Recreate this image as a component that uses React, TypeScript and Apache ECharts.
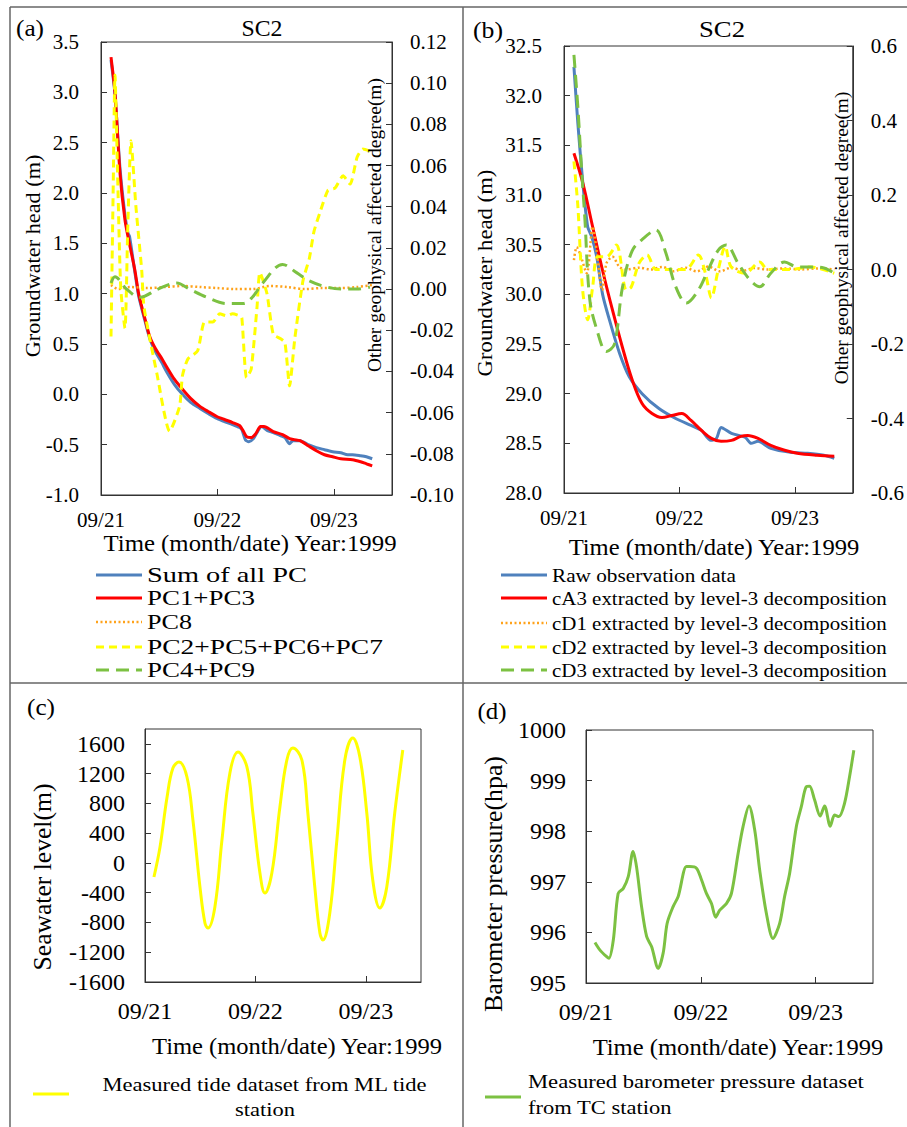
import React, { useEffect, useRef } from "react";
import * as echarts from "echarts";

// ---------------- DATA ----------------
// x values are days after 09/21 00:00 (1999)
const dayTickLabels = ["09/21", "09/22", "09/23"];

// Panel (a) – left axis (groundwater head, m)
const aSumAllPC: [number, number][] = [
  [0.086, 3.32], [0.12, 2.98], [0.163, 2.25], [0.206, 1.78], [0.232, 1.6], [0.245, 1.57],
  [0.29, 1.22], [0.32, 1.0], [0.335, 0.92], [0.38, 0.72], [0.42, 0.55], [0.47, 0.42],
  [0.52, 0.32], [0.566, 0.22], [0.63, 0.1], [0.7, 0.0], [0.77, -0.08], [0.85, -0.14],
  [0.92, -0.19], [0.995, -0.24], [1.06, -0.27], [1.13, -0.3], [1.19, -0.33], [1.21, -0.35],
  [1.24, -0.45], [1.27, -0.47], [1.31, -0.44], [1.35, -0.36], [1.38, -0.32], [1.43, -0.36],
  [1.48, -0.38], [1.54, -0.41], [1.58, -0.43], [1.62, -0.49], [1.65, -0.46], [1.71, -0.46],
  [1.78, -0.5], [1.85, -0.53], [1.92, -0.55], [1.99, -0.57], [2.06, -0.58], [2.12, -0.6],
  [2.16, -0.6], [2.23, -0.61], [2.28, -0.62], [2.33, -0.64],
];
const aPC1PC3: [number, number][] = [
  [0.086, 3.35], [0.12, 3.0], [0.163, 2.2], [0.206, 1.73], [0.24, 1.52], [0.29, 1.24],
  [0.32, 1.02], [0.335, 0.94], [0.38, 0.74], [0.42, 0.57], [0.47, 0.45], [0.52, 0.36],
  [0.566, 0.27], [0.63, 0.15], [0.7, 0.05], [0.77, -0.04], [0.85, -0.12], [0.92, -0.17],
  [0.995, -0.22], [1.06, -0.25], [1.13, -0.28], [1.19, -0.31], [1.22, -0.36], [1.25, -0.42],
  [1.29, -0.43], [1.33, -0.39], [1.37, -0.32], [1.4, -0.32], [1.48, -0.37], [1.56, -0.4],
  [1.62, -0.44], [1.66, -0.45], [1.71, -0.46], [1.78, -0.51], [1.85, -0.56], [1.92, -0.6],
  [1.99, -0.62], [2.06, -0.64], [2.16, -0.65], [2.23, -0.67], [2.28, -0.69], [2.33, -0.71],
];
// Panel (a) – right axis (other geophysical affected degree, m)
const aPC8: [number, number][] = [
  [0.086, 0.002], [0.15, 0.0], [0.25, 0.001], [0.4, 0.0005], [0.55, 0.001], [0.7, 0.0015],
  [0.85, 0.001], [1.0, 0.0005], [1.15, 0.0], [1.3, 0.0], [1.45, 0.0015], [1.6, 0.001],
  [1.75, 0.0], [1.9, 0.0005], [2.05, 0.0005], [2.2, 0.001], [2.33, 0.002],
];
const aPC2PC5PC6PC7: [number, number][] = [
  [0.086, -0.023], [0.105, 0.05], [0.12, 0.104], [0.145, 0.05], [0.17, 0.0], [0.206, -0.019],
  [0.23, 0.03], [0.258, 0.072], [0.3, 0.04], [0.35, 0.009], [0.37, -0.009], [0.48, -0.041],
  [0.59, -0.069], [0.675, -0.057], [0.7, -0.042], [0.746, -0.034], [0.83, -0.03], [0.89, -0.016],
  [0.96, -0.016], [1.02, -0.012], [1.08, -0.013], [1.13, -0.012], [1.19, -0.013], [1.21, -0.014],
  [1.25, -0.043], [1.29, -0.039], [1.34, -0.009], [1.365, 0.008], [1.425, -0.002], [1.48, -0.022],
  [1.54, -0.024], [1.58, -0.026], [1.62, -0.047], [1.665, -0.024], [1.735, 0.004], [1.79, 0.015],
  [1.83, 0.028], [1.88, 0.037], [1.95, 0.048], [2.01, 0.049], [2.08, 0.055], [2.14, 0.051],
  [2.2, 0.064], [2.25, 0.068], [2.31, 0.067],
];
const aPC4PC9: [number, number][] = [
  [0.086, 0.003], [0.12, 0.006], [0.22, 0.0], [0.335, -0.004], [0.49, 0.0], [0.65, 0.003],
  [0.76, 0.0], [0.91, -0.004], [1.08, -0.007], [1.22, -0.007], [1.3, -0.004], [1.39, 0.003],
  [1.56, 0.012], [1.68, 0.008], [1.79, 0.004], [1.94, 0.001], [2.08, 0.0], [2.2, 0.0], [2.31, 0.001],
];

// Panel (b) – left axis
const bRawObservation: [number, number][] = [
  [0.086, 32.29], [0.12, 31.72], [0.163, 31.12], [0.205, 30.68], [0.24, 30.58], [0.283, 30.38],
  [0.334, 30.0], [0.394, 29.74], [0.48, 29.41], [0.565, 29.17], [0.676, 29.0], [0.822, 28.85],
  [0.967, 28.75], [1.1, 28.68], [1.19, 28.63], [1.27, 28.53], [1.32, 28.55], [1.36, 28.66],
  [1.45, 28.6], [1.57, 28.56], [1.62, 28.5], [1.68, 28.52], [1.79, 28.45], [1.96, 28.41],
  [2.11, 28.4], [2.25, 28.38], [2.34, 28.35],
];
const bCA3: [number, number][] = [
  [0.086, 31.42], [0.163, 31.12], [0.248, 30.68], [0.334, 30.24], [0.42, 29.84], [0.505, 29.47],
  [0.59, 29.14], [0.676, 28.9], [0.762, 28.8], [0.848, 28.76], [0.933, 28.78], [1.02, 28.8],
  [1.1, 28.73], [1.19, 28.63], [1.276, 28.55], [1.36, 28.52], [1.45, 28.53], [1.53, 28.57],
  [1.59, 28.58], [1.68, 28.55], [1.79, 28.48], [1.91, 28.43], [2.02, 28.4], [2.19, 28.38], [2.34, 28.37],
];
// Panel (b) – right axis
const bCD1: [number, number][] = [
  [0.086, 0.025], [0.11, 0.06], [0.137, 0.044], [0.197, -0.01], [0.248, 0.115], [0.283, 0.05],
  [0.33, -0.055], [0.368, 0.017], [0.42, 0.034], [0.48, 0.007], [0.54, 0.0], [0.65, 0.005],
  [0.75, 0.0], [0.85, 0.007], [0.95, -0.005], [1.05, 0.005], [1.15, -0.005], [1.25, 0.008],
  [1.35, -0.005], [1.45, 0.005], [1.55, -0.003], [1.65, 0.004], [1.75, 0.0], [1.9, 0.003],
  [2.05, 0.0], [2.2, 0.003], [2.34, 0.0],
];
const bCD2: [number, number][] = [
  [0.086, 0.29], [0.12, 0.17], [0.16, -0.05], [0.205, -0.135], [0.248, -0.047], [0.29, 0.034],
  [0.368, 0.034], [0.454, 0.066], [0.54, -0.055], [0.582, -0.047], [0.65, 0.017], [0.72, 0.039],
  [0.796, 0.0], [0.907, 0.0], [1.053, 0.0], [1.164, 0.039], [1.224, -0.01], [1.276, -0.076],
  [1.336, 0.0], [1.396, 0.062], [1.447, 0.007], [1.567, -0.01], [1.695, 0.02], [1.764, 0.0],
  [1.96, 0.0], [2.13, 0.007], [2.34, -0.01],
];
const bCD3: [number, number][] = [
  [0.086, 0.576], [0.12, 0.436], [0.154, 0.26], [0.18, 0.14], [0.223, -0.08], [0.283, -0.16],
  [0.368, -0.22], [0.437, -0.2], [0.505, -0.05], [0.59, 0.05], [0.693, 0.085], [0.796, 0.106],
  [0.882, 0.044], [0.967, -0.046], [1.06, -0.09], [1.164, -0.055], [1.25, 0.0], [1.336, 0.052],
  [1.404, 0.066], [1.507, 0.017], [1.61, -0.028], [1.695, -0.046], [1.79, -0.01], [1.91, 0.02],
  [2.02, 0.007], [2.13, 0.007], [2.25, 0.004], [2.34, -0.01],
];

// Panel (c) – tide
const cTide: [number, number][] = [
  [0.081, -189], [0.136, 214], [0.2, 886], [0.253, 1276], [0.308, 1356], [0.38, 1155],
  [0.434, 577], [0.498, -324], [0.543, -808], [0.57, -875], [0.633, -592], [0.697, 308],
  [0.769, 1209], [0.842, 1491], [0.923, 1290], [0.977, 671], [1.041, -135], [1.086, -404],
  [1.149, -135], [1.222, 752], [1.285, 1383], [1.339, 1545], [1.421, 1383], [1.475, 671],
  [1.538, -324], [1.584, -942], [1.611, -1036], [1.674, -673], [1.738, 308], [1.81, 1383],
  [1.882, 1679], [1.946, 1424], [2.009, 671], [2.063, -229], [2.127, -606], [2.19, -324],
  [2.262, 671], [2.335, 1517],
];

// Panel (d) – barometer pressure
const dPressure: [number, number][] = [
  [0.078, 995.8], [0.122, 995.65], [0.18, 995.52], [0.2, 995.49], [0.238, 995.85], [0.28, 996.77],
  [0.325, 996.87], [0.368, 997.1], [0.41, 997.6], [0.44, 997.3], [0.484, 996.51], [0.528, 995.92],
  [0.571, 995.72], [0.629, 995.29], [0.672, 995.59], [0.707, 996.18], [0.759, 996.51], [0.803, 996.71],
  [0.875, 997.3], [0.904, 997.3], [0.962, 997.27], [1.006, 997.04], [1.049, 996.77], [1.093, 996.57],
  [1.13, 996.3], [1.165, 996.44], [1.223, 996.57], [1.267, 996.77], [1.325, 997.56], [1.368, 998.09],
  [1.42, 998.5], [1.47, 998.02], [1.513, 997.23], [1.571, 996.38], [1.629, 995.88], [1.687, 996.18],
  [1.73, 996.71], [1.774, 997.17], [1.832, 998.09], [1.875, 998.48], [1.919, 998.88], [1.948, 998.89],
  [1.991, 998.62], [2.04, 998.3], [2.078, 998.5], [2.128, 998.1], [2.165, 998.32], [2.203, 998.29],
  [2.252, 998.55], [2.296, 999.08], [2.333, 999.6],
];

const legendA = ["Sum of all PC", "PC1+PC3", "PC8", "PC2+PC5+PC6+PC7", "PC4+PC9"];
const legendB = [
  "Raw observation data",
  "cA3 extracted by level-3 decomposition",
  "cD1 extracted by level-3 decomposition",
  "cD2 extracted by level-3 decomposition",
  "cD3 extracted by level-3 decomposition",
];

// ---------------- STYLE ----------------
const FONT = "Liberation Serif, Times New Roman, serif";
const BLUE = "#4F81BD";
const RED = "#FF0000";
const ORANGE = "#FFA21A";
const YELLOW = "#FFFF00";
const GREEN = "#7CC142";
const TXT = "#000";
const AX = "#333";

let measureCtx: CanvasRenderingContext2D | null = null;
function measure(text: string, size: number) {
  if (!measureCtx) measureCtx = document.createElement("canvas").getContext("2d");
  if (!measureCtx) return text.length * size * 0.5;
  measureCtx.font = `${size}px ${FONT}`;
  return measureCtx.measureText(text).width;
}

function txt(text: string, x: number, y: number, size: number, width: number | null,
  align: "left" | "center" | "right" = "center", rotation = 0) {
  const s = width ? width / measure(text, size) : 1;
  return {
    type: "text", x, y, rotation, scaleX: s, scaleY: 1, silent: true, z: 20,
    style: {
      text, fontSize: size, fontFamily: FONT, fill: TXT,
      textAlign: align, textVerticalAlign: "middle", align, verticalAlign: "middle",
    },
  };
}

function seg(x1: number, y1: number, x2: number, y2: number, stroke: string, lineWidth: number, lineDash?: number[]) {
  return {
    type: "line", silent: true, z: 20,
    shape: { x1, y1, x2, y2 },
    style: { stroke, lineWidth, lineDash: lineDash || null },
  };
}

const dayFmt = (v: number) => {
  for (let i = 0; i < dayTickLabels.length; i++) if (Math.abs(v - i) < 1e-6) return dayTickLabels[i];
  return "";
};

function xAxis(gridIndex: number, size: number, margin: number) {
  return {
    type: "value", gridIndex, min: 0, max: 2.5, interval: 1,
    axisLine: { show: true, onZero: false, lineStyle: { color: AX, width: 1 } },
    axisTick: { show: true, inside: true, length: 6, lineStyle: { color: AX } },
    axisLabel: { formatter: dayFmt, showMaxLabel: false, fontFamily: FONT, fontSize: size, color: TXT, margin },
    splitLine: { show: false },
  };
}
function yAxis(gridIndex: number, position: "left" | "right", min: number, max: number, interval: number,
  digits: number, size: number, margin: number, showMax = true) {
  return {
    type: "value", gridIndex, position, min, max, interval,
    axisLine: { show: true, onZero: false, lineStyle: { color: AX, width: 1 } },
    axisTick: { show: true, inside: true, length: 6, lineStyle: { color: AX } },
    axisLabel: {
      formatter: (v: number) => (Math.abs(v) < 1e-9 ? 0 : v).toFixed(digits),
      showMaxLabel: showMax, fontFamily: FONT, fontSize: size, color: TXT, margin,
    },
    splitLine: { show: false },
  };
}

function lineSeries(name: string, data: [number, number][], xi: number, yi: number, color: string,
  width: number, type: any, smooth: number, z: number) {
  return {
    type: "line", name, data, xAxisIndex: xi, yAxisIndex: yi, showSymbol: false, symbol: "none",
    smooth, z, lineStyle: { color, width, type, cap: "butt" }, emphasis: { disabled: true },
  };
}

export default function App() {
  const ref = useRef<HTMLDivElement>(null);
  useEffect(() => {
    if (!ref.current) return;
    const chart = echarts.init(ref.current, undefined, { renderer: "svg" });

    const gridBox = { show: true, borderColor: AX, borderWidth: 1, backgroundColor: "transparent" };
    const dotted = [2, 2.5];
    const yDash = [8, 5];
    const gDash = [13, 7];

    const graphic: any[] = [
      // frame
      seg(10, 7, 907, 7, "#666", 1.5),
      seg(10, 7, 10, 1127, "#666", 1.5),
      seg(463, 7, 463, 1127, "#666", 1.5),
      seg(10, 683, 907, 683, "#666", 1.5),
      // panel letters & titles
      txt("(a)", 30, 28, 24, 28),
      txt("SC2", 262, 28, 24, 41),
      txt("(b)", 488, 30, 24, 30),
      txt("SC2", 722, 28, 24, 46),
      txt("(c)", 41, 707, 24, 28),
      txt("(d)", 492, 711, 24, 29),
      // axis names
      txt("Time (month/date) Year:1999", 250, 543, 23, 294),
      txt("Time (month/date) Year:1999", 714, 547, 23, 292),
      txt("Time (month/date) Year:1999", 297, 1046, 23, 291),
      txt("Time (month/date) Year:1999", 738, 1047, 23, 292),
      txt("Groundwater head (m)", 33, 256, 21, 203, "center", Math.PI / 2),
      txt("Other geophysical affected degree(m)", 375, 225, 18, 294, "center", Math.PI / 2),
      txt("Groundwater head (m)", 485, 273, 21, 207, "center", Math.PI / 2),
      txt("Other geophysical affected degree(m)", 842, 238, 18, 293, "center", Math.PI / 2),
      txt("Seawater level(m)", 42, 877, 25, 187, "center", Math.PI / 2),
      txt("Barometer pressure(hpa)", 493, 884, 25, 256, "center", Math.PI / 2),
    ];

    // legend (a)
    const aRows = [575, 598, 622, 647, 670];
    const aWidths = [160, 108, 45, 236, 108];
    const aStyles: [string, number, number[] | undefined][] = [
      [BLUE, 3, undefined], [RED, 3, undefined], [ORANGE, 2.5, dotted], [YELLOW, 3, yDash], [GREEN, 3, gDash],
    ];
    legendA.forEach((name, i) => {
      graphic.push(seg(96, aRows[i], 142, aRows[i], aStyles[i][0], aStyles[i][1], aStyles[i][2]));
      graphic.push(txt(name, 147, aRows[i], 21, aWidths[i], "left"));
    });
    // legend (b)
    const bRows = [575, 598, 623, 647, 670];
    const bWidths = [184, 335, 335, 335, 335];
    legendB.forEach((name, i) => {
      graphic.push(seg(501, bRows[i], 547, bRows[i], aStyles[i][0], aStyles[i][1], aStyles[i][2]));
      graphic.push(txt(name, 552, bRows[i], 19, bWidths[i], "left"));
    });
    // legend (c)
    graphic.push(seg(33, 1094, 69, 1094, YELLOW, 3));
    graphic.push(txt("Measured tide dataset from ML tide", 264.5, 1085, 19, 325));
    graphic.push(txt("station", 265, 1110, 19, 60));
    // legend (d)
    graphic.push(seg(485, 1097, 521, 1097, GREEN, 3));
    graphic.push(txt("Measured barometer pressure dataset", 528, 1082, 19, 336, "left"));
    graphic.push(txt("from TC station", 528, 1108, 19, 144, "left"));

    const option: any = {
      animation: false,
      textStyle: { fontFamily: FONT },
      grid: [
        { left: 101, top: 42, width: 291, height: 453, ...gridBox },
        { left: 564, top: 46, width: 292, height: 447, ...gridBox },
        { left: 145, top: 729, width: 276, height: 253, ...gridBox },
        { left: 586, top: 730, width: 287, height: 253, ...gridBox },
      ],
      xAxis: [xAxis(0, 21, 14), xAxis(1, 21, 14), xAxis(2, 24, 17), xAxis(3, 24, 17)],
      yAxis: [
        yAxis(0, "left", -1, 3.5, 0.5, 1, 21, 22),
        yAxis(0, "right", -0.1, 0.12, 0.02, 2, 21, 18),
        yAxis(1, "left", 28, 32.5, 0.5, 1, 21, 22),
        yAxis(1, "right", -0.6, 0.6, 0.2, 1, 21, 18),
        yAxis(2, "left", -1600, 1800, 400, 0, 24, 20, false),
        yAxis(3, "left", 995, 1000, 1, 0, 24, 20),
      ],
      series: [
        lineSeries(legendA[0], aSumAllPC, 0, 0, BLUE, 3, "solid", 0.25, 2),
        lineSeries(legendA[1], aPC1PC3, 0, 0, RED, 3, "solid", 0.25, 3),
        lineSeries(legendA[2], aPC8, 0, 1, ORANGE, 2.5, dotted, 0.3, 4),
        lineSeries(legendA[3], aPC2PC5PC6PC7, 0, 1, YELLOW, 3, yDash, 0.2, 5),
        lineSeries(legendA[4], aPC4PC9, 0, 1, GREEN, 3, gDash, 0.35, 6),
        lineSeries(legendB[0], bRawObservation, 1, 2, BLUE, 3, "solid", 0.25, 2),
        lineSeries(legendB[1], bCA3, 1, 2, RED, 3, "solid", 0.35, 3),
        lineSeries(legendB[2], bCD1, 1, 3, ORANGE, 2.5, dotted, 0.3, 4),
        lineSeries(legendB[3], bCD2, 1, 3, YELLOW, 3, yDash, 0.3, 5),
        lineSeries(legendB[4], bCD3, 1, 3, GREEN, 3, gDash, 0.35, 6),
        lineSeries("Measured tide dataset from ML tide station", cTide, 2, 4, YELLOW, 3, "solid", 0.4, 2),
        lineSeries("Measured barometer pressure dataset from TC station", dPressure, 3, 5, GREEN, 3, "solid", 0.3, 2),
      ],
      graphic: { elements: graphic },
    };
    chart.setOption(option);
    return () => chart.dispose();
  }, []);

  return (
    <div
      ref={ref}
      style={{ position: "absolute", left: 0, top: 0, width: 907, height: 1127, background: "#fff" }}
    />
  );
}
